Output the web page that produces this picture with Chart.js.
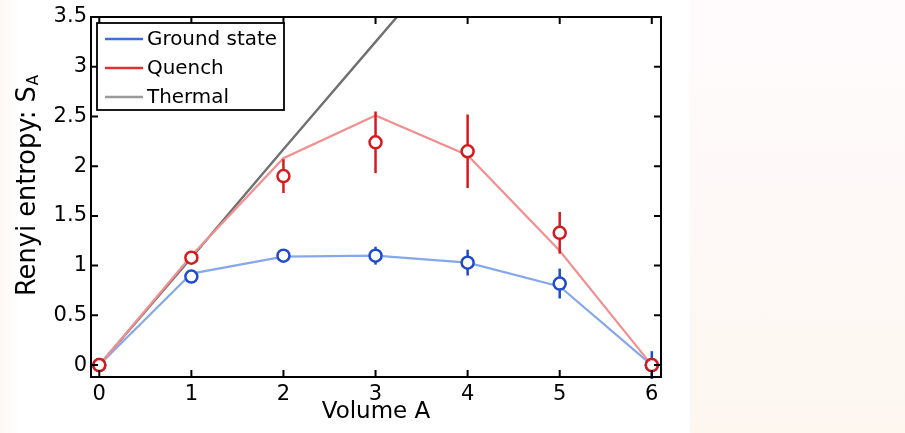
<!DOCTYPE html>
<html>
<head>
<meta charset="utf-8">
<script src="https://cdn.jsdelivr.net/npm/chart.js@4.4.1/dist/chart.umd.min.js"></script>
<style>
  html, body { margin: 0; padding: 0; background: #fff; }
  #wrap {
    width: 905px; height: 433px; position: relative;
    background:
      linear-gradient(to bottom, rgba(255,251,253,1) 0px, rgba(253,247,240,1) 433px) right / 215px 100% no-repeat,
      linear-gradient(to right, #fdf8f5 0px, #ffffff 20px) left / 40px 100% no-repeat,
      #ffffff;
  }
</style>
</head>
<body>
<div id="wrap"><canvas id="chart" width="905" height="433"></canvas></div>
<script>
// data
const volume = [0, 1, 2, 3, 4, 5, 6];
const groundTheory = [0, 0.92, 1.09, 1.10, 1.03, 0.79, 0];
const quenchTheory = [0, 1.10, 2.08, 2.51, 2.11, 1.15, 0];
const thermalVolume = [0, 1, 2, 3, 4];
const thermalTheory = [0, 1.08, 2.17, 3.25, 4.33];
const groundMeas = [0, 0.89, 1.10, 1.10, 1.03, 0.82, 0];
const groundErr = [0.02, 0.05, 0.06, 0.09, 0.13, 0.15, 0.14];
const quenchMeas = [0, 1.08, 1.90, 2.24, 2.15, 1.33, 0];
const quenchErr = [0.02, 0.05, 0.17, 0.31, 0.37, 0.21, 0.03];
const xTicks = [0, 1, 2, 3, 4, 5, 6];
const yTicks = [0, 0.5, 1, 1.5, 2, 2.5, 3, 3.5];

const FONT = "'DejaVu Sans', sans-serif";
const BLUE_LINE = '#86a8ea', BLUE_MARK = '#1f4acb';
const RED_LINE = '#f29090', RED_MARK = '#d41c1c';
const GRAY = '#707070';

const pts = (xs, ys) => xs.map((x, i) => ({ x: x, y: ys[i] }));

// font size so that a text gets a given width
function fitSize(ctx, text, width, base) {
  ctx.font = base + 'px ' + FONT;
  return base * width / ctx.measureText(text).width;
}

// error bars drawn just before each marker dataset
const errorBars = {
  id: 'errorBars',
  beforeDatasetDraw(chart, args) {
    const ds = chart.data.datasets[args.index];
    if (!ds.err) return;
    const { ctx, scales: { x, y } } = chart;
    ctx.save();
    ctx.strokeStyle = ds.borderColor;
    ctx.lineWidth = 2.5;
    ds.data.forEach((p, i) => {
      const px = x.getPixelForValue(p.x);
      ctx.beginPath();
      ctx.moveTo(px, y.getPixelForValue(p.y - ds.err[i]));
      ctx.lineTo(px, y.getPixelForValue(p.y + ds.err[i]));
      ctx.stroke();
    });
    ctx.restore();
  }
};

// matlab-like box, inward ticks, titles and legend
const frame = {
  id: 'frame',
  afterDraw(chart) {
    const { ctx, chartArea: a, scales: { x, y } } = chart;
    ctx.save();
    ctx.strokeStyle = '#000';
    ctx.lineWidth = 2;
    ctx.strokeRect(a.left, a.top, a.right - a.left, a.bottom - a.top);
    ctx.beginPath();
    const t = 7;
    xTicks.forEach(v => {
      const px = x.getPixelForValue(v);
      ctx.moveTo(px, a.bottom); ctx.lineTo(px, a.bottom - t);
      ctx.moveTo(px, a.top); ctx.lineTo(px, a.top + t);
    });
    yTicks.forEach(v => {
      const py = y.getPixelForValue(v);
      ctx.moveTo(a.left, py); ctx.lineTo(a.left + t, py);
      ctx.moveTo(a.right, py); ctx.lineTo(a.right - t, py);
    });
    ctx.stroke();

    // x title
    ctx.fillStyle = '#000';
    ctx.font = '23px ' + FONT;
    ctx.textAlign = 'center';
    ctx.textBaseline = 'middle';
    ctx.fillText('Volume A', (a.left + a.right) / 2, 412);

    // y title with subscript, stretched to the reference length
    ctx.save();
    ctx.translate(28, 186);
    ctx.rotate(-Math.PI / 2);
    const main = 'Renyi entropy: S';
    const fs = fitSize(ctx, main, 210, 23);
    ctx.font = fs + 'px ' + FONT;
    const w1 = ctx.measureText(main).width;
    const sub = Math.round(fs * 0.6);
    ctx.font = sub + 'px ' + FONT;
    const w2 = ctx.measureText('A').width;
    const start = -(w1 + w2) / 2;
    ctx.textAlign = 'left';
    ctx.font = fs + 'px ' + FONT;
    ctx.fillText(main, start, 0);
    ctx.font = sub + 'px ' + FONT;
    ctx.fillText('A', start + w1 + 1, 6);
    ctx.restore();

    // legend box
    const lx = 97, ly = 23, lw = 187, lh = 87;
    ctx.fillStyle = '#fff';
    ctx.fillRect(lx, ly, lw, lh);
    ctx.lineWidth = 1.8;
    ctx.strokeStyle = '#000';
    ctx.strokeRect(lx, ly, lw, lh);
    const items = [['Ground state', '#3b6fdc'], ['Quench', '#e03030'], ['Thermal', '#9a9a9a']];
    const ls = fitSize(ctx, 'Ground state', 130, 20);
    ctx.font = ls + 'px ' + FONT;
    ctx.textAlign = 'left';
    ctx.textBaseline = 'middle';
    items.forEach((it, i) => {
      const yy = 39 + i * 29;
      ctx.strokeStyle = it[1];
      ctx.lineWidth = 2.5;
      ctx.beginPath();
      ctx.moveTo(105, yy); ctx.lineTo(143, yy);
      ctx.stroke();
      ctx.fillStyle = '#000';
      ctx.fillText(it[0], 147, yy + 1);
    });
    ctx.restore();
  }
};

new Chart(document.getElementById('chart'), {
  type: 'scatter',
  data: {
    datasets: [
      { label: 'Quench data', data: pts(volume, quenchMeas), err: quenchErr, showLine: false,
        borderColor: RED_MARK, backgroundColor: '#fff', pointRadius: 6, pointBorderWidth: 2.5 },
      { label: 'Ground data', data: pts(volume, groundMeas), err: groundErr, showLine: false,
        borderColor: BLUE_MARK, backgroundColor: '#fff', pointRadius: 6, pointBorderWidth: 2.5 },
      { label: 'Quench', data: pts(volume, quenchTheory), showLine: true, pointRadius: 0,
        borderColor: RED_LINE, borderWidth: 2.2 },
      { label: 'Ground state', data: pts(volume, groundTheory), showLine: true, pointRadius: 0,
        borderColor: BLUE_LINE, borderWidth: 2.2 },
      { label: 'Thermal', data: pts(thermalVolume, thermalTheory), showLine: true, pointRadius: 0,
        borderColor: GRAY, borderWidth: 2.4 }
    ]
  },
  options: {
    responsive: false,
    animation: false,
    layout: { padding: { left: 0, right: 244, top: 17, bottom: 0 } },
    plugins: { legend: { display: false }, tooltip: { enabled: false } },
    scales: {
      x: {
        type: 'linear', min: -0.09, max: 6.1,
        afterBuildTicks: s => { s.ticks = xTicks.map(v => ({ value: v })); },
        afterFit: s => { s.height = 56; },
        grid: { display: false, drawTicks: false }, border: { display: false },
        ticks: { color: '#000', font: { family: FONT, size: 21 }, padding: 5,
                 callback: v => String(v) }
      },
      y: {
        type: 'linear', min: -0.12, max: 3.5,
        afterBuildTicks: s => { s.ticks = yTicks.map(v => ({ value: v })); },
        afterFit: s => { s.width = 91; },
        grid: { display: false, drawTicks: false }, border: { display: false },
        ticks: { color: '#000', font: { family: FONT, size: 21 }, padding: 4,
                 callback: v => String(v) }
      }
    }
  },
  plugins: [errorBars, frame]
});
</script>
</body>
</html>
